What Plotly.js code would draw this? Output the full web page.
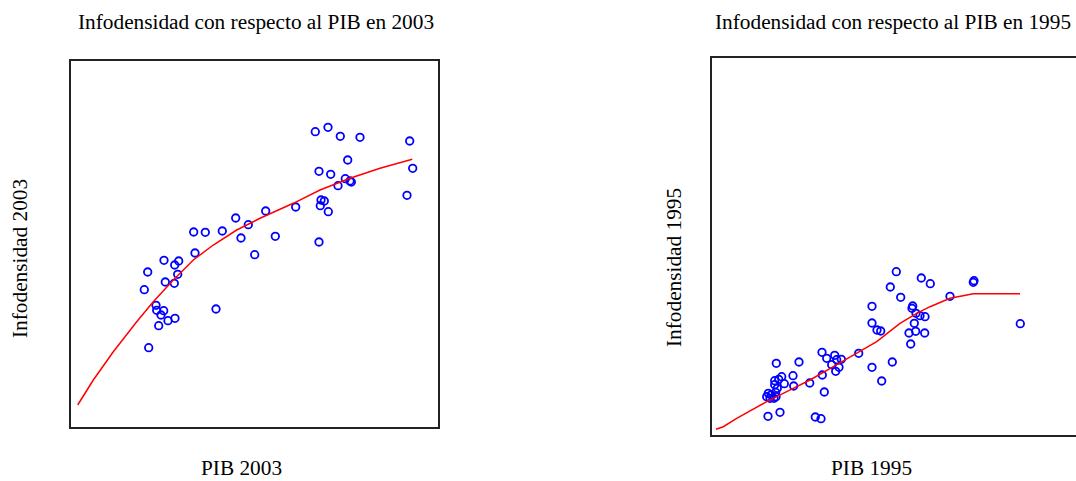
<!DOCTYPE html>
<html>
<head>
<meta charset="utf-8">
<script src="https://cdn.plot.ly/plotly-3.0.1.min.js"></script>
<style>
html, body { margin:0; padding:0; overflow:hidden; background:#fff; }
#chart { width:1100px; height:481px; }
</style>
</head>
<body>
<div id="chart"></div>
<script>
// Panel 1: 2003
var pib2003 = [244.3,257,269.3,289,338.7,276.7,341.7,248,259.7,274.3,280.3,279,267,336,250,253.3,249.3,257.3,224.7,194.7,164.7,177.3,170,204.3,183.7,248,151.3,134.3,122.7,124,93,107.7,103.7,76.7,106.7,94.3,103.3,73.3,145,85,85.7,92.7,90,97,104,87.7,77.7];
var info2003 = [295.3,299.7,290.7,289.7,286,267,258.7,255.7,252.7,248.3,245,246,241.3,231.7,227,226,221.3,215.3,220,216,209,202.3,189,190.7,172.3,185,196,194.7,195,174,166.7,166,162,155,152.7,145,143.7,137.3,118,121.7,116.7,116.3,112,106.3,108.7,101.3,79.3];
var fit2003x = [6.7,22.3,42.3,65.7,82.3,102.3,122.3,142.3,165.7,189,222.3,249,279,309,341.3];
var fit2003y = [22,47,75.3,105.3,125.3,147,167,182,197,208.7,223.7,237,248.7,258.7,267.7];

// Panel 2: 1995
var pib1995 = [184.3,209.3,218.3,178.3,262,261.3,238,188.7,160,200.7,200,204,208,213,308.3,160,165,168.7,202.3,197,203.7,212.7,198.7,146.7,110,114.7,122.7,124.7,129.3,119.7,127,123.7,180.3,160,110.3,169.7,87,64.3,81,69.7,66.7,62.7,72.3,62.7,81.7,97.7,65.3,112.3,56.3,59,54.7,62,64,56,68,103.3,109,63.7,58];
var info1995 = [163.3,157,151.3,148,154.3,152.7,138.7,137.7,128.7,129,126.7,121.7,119.3,118.3,111.3,112,105,104,111.7,102,103.7,102,91,81.7,82.7,76.7,79.7,75.3,75.7,70.3,67.7,63.7,73,67.7,60,54,73,71.7,59.3,58.3,55.7,54.3,51.3,50.3,49,52,46.7,43,41.7,40,38.3,36.7,38.3,18.7,22.7,18,16.3,42.7,36.7];
var fit1995x = [4,11.3,24.7,38,54.7,74.7,98,121.3,144.7,164.7,188,204.7,218,238,261.3,308];
var fit1995y = [5.7,8.3,16.7,24,33.3,43.3,55,68.3,81.7,93.3,111.7,121.7,128.3,136.7,141.3,141.3];

var titles = ["Infodensidad con respecto al PIB en 2003", "Infodensidad con respecto al PIB en 1995"];
var xlabels = ["PIB 2003", "PIB 1995"];
var ylabels = ["Infodensidad 2003", "Infodensidad 1995"];

var W = 1100, H = 481;
var FONT = {family: "Liberation Serif, Times New Roman, serif", size: 21.3, color: "#000"};

var marker = {symbol: "circle-open", size: 7.5, color: "#0000ff", line: {width: 1.8, color: "#0000ff"}};
var traces = [
  {x: pib2003, y: info2003, mode: "markers", type: "scatter", marker: marker, xaxis: "x", yaxis: "y", hoverinfo: "none"},
  {x: fit2003x, y: fit2003y, mode: "lines", type: "scatter", line: {color: "#ff0000", width: 1.5}, xaxis: "x", yaxis: "y", hoverinfo: "none"},
  {x: pib1995, y: info1995, mode: "markers", type: "scatter", marker: marker, xaxis: "x2", yaxis: "y2", hoverinfo: "none"},
  {x: fit1995x, y: fit1995y, mode: "lines", type: "scatter", line: {color: "#ff0000", width: 1.5}, xaxis: "x2", yaxis: "y2", hoverinfo: "none"}
];

function ax(dom, range, anchor) {
  return {domain: dom, range: range, anchor: anchor, showline: true, mirror: true, linecolor: "#222", linewidth: 1.6,
          showgrid: false, zeroline: false, showticklabels: false, ticks: "", fixedrange: true};
}

function ann(text, px, py, angle) {
  return {text: text, xref: "paper", yref: "paper", x: px / W, y: (H - py) / H, xanchor: "center", yanchor: "middle",
          textangle: angle || 0, showarrow: false, borderpad: 0, font: FONT};
}

var layout = {
  width: W, height: H,
  margin: {l: 0, r: 0, t: 0, b: 0, pad: 0},
  paper_bgcolor: "#fff", plot_bgcolor: "#fff",
  showlegend: false,
  xaxis: ax([71 / W, 438 / W], [0, 367], "y"),
  yaxis: ax([(H - 427) / H, (H - 61) / H], [0, 366], "x"),
  xaxis2: ax([712 / W, 1089 / W], [0, 377], "y2"),
  yaxis2: ax([(H - 435) / H, (H - 58) / H], [0, 377], "x2"),
  annotations: [
    ann(titles[0], 256, 22),
    ann(titles[1], 893, 22),
    ann(xlabels[0], 241, 468),
    ann(xlabels[1], 871, 468),
    ann(ylabels[0], 20, 259, -90),
    ann(ylabels[1], 674, 268, -90)
  ]
};

Plotly.newPlot("chart", traces, layout, {staticPlot: true, displayModeBar: false});
</script>
</body>
</html>
